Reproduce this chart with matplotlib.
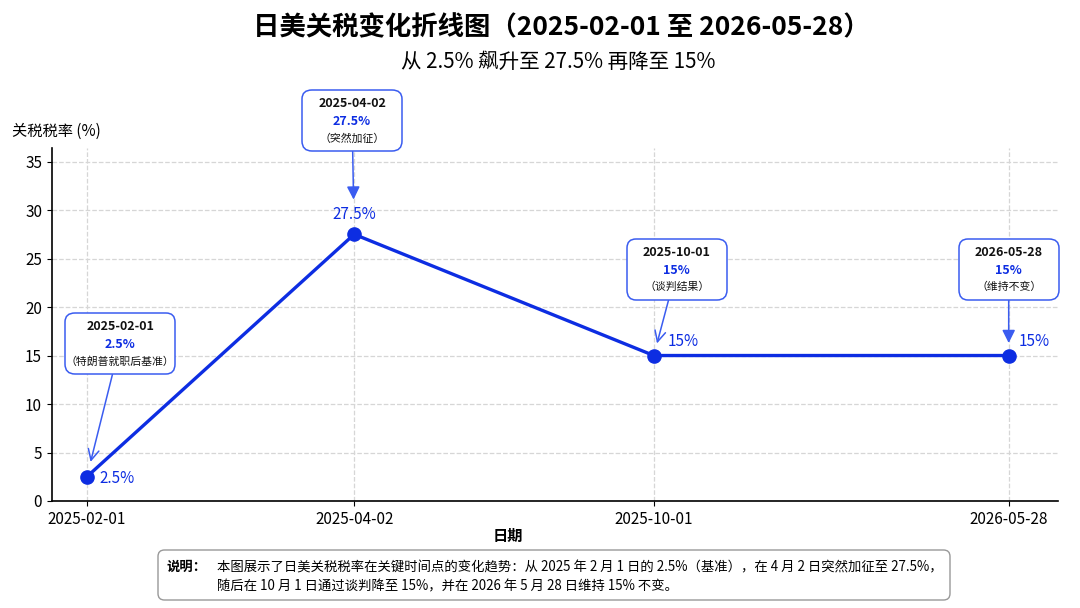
import numpy as np
import matplotlib
matplotlib.use('Agg')
import matplotlib.pyplot as plt
from matplotlib.offsetbox import TextArea, VPacker, AnnotationBbox, DrawingArea
from matplotlib.patches import FancyBboxPatch

plt.rcParams['font.family'] = ['Noto Sans CJK SC', 'DejaVu Sans']

# datos
fechas = ['2025-02-01', '2025-04-02', '2025-10-01', '2026-05-28']
x_pos = [0, 0.87, 1.845, 3.0]
tasa = [2.5, 27.5, 15, 15]
etiquetas = ['2.5%', '27.5%', '15%', '15%']
notas = ['（特朗普就职后基准）', '（突然加征）', '（谈判结果）', '（维持不变）']

azul = '#0d2de2'
azul_borde = '#3a5cf0'

fig = plt.figure(figsize=(10.8, 6.08), dpi=100)
ax = fig.add_axes([0.048, 0.176, 0.9315, 0.5806])

ax.plot(x_pos, tasa, color=azul, lw=2.4, marker='o', ms=9.5, zorder=5)

ax.set_xlim(-0.114, 3.16)
ax.set_ylim(0, 36.4)
ax.set_yticks(np.arange(0, 36, 5))
ax.set_xticks(x_pos)
ax.set_xticklabels(fechas)
ax.tick_params(labelsize=11)
ax.grid(True, ls='--', color='#d6d6d6', lw=0.9)
ax.set_axisbelow(True)
for s in ['top', 'right']:
    ax.spines[s].set_visible(False)
ax.spines['left'].set_linewidth(1.2)
ax.spines['bottom'].set_linewidth(1.2)

ax.set_xlabel('日期', fontsize=11, fontweight='bold')
ax.xaxis.set_label_coords(0.453, -0.075)
fig.text(12/1080, 1-131/608, '关税税率 (%)', fontsize=11, va='center', ha='left')

fig.text(0.52, 1-28/608, '日美关税变化折线图（2025-02-01 至 2026-05-28）', fontsize=19,
         fontweight='bold', ha='center', va='center')
fig.text(0.517, 1-62/608, '从 2.5% 飙升至 27.5% 再降至 15%', fontsize=14.8,
         ha='center', va='center')

# etiquetas de valor junto a los puntos
lab_off = [(9, -1), (0, 14), (10, 10), (7, 10)]
lab_ha = ['left', 'center', 'left', 'left']
for i in range(4):
    ax.annotate(etiquetas[i], (x_pos[i], tasa[i]), xytext=lab_off[i],
                textcoords='offset points', ha=lab_ha[i], va='center',
                color=azul, fontsize=11, zorder=6)

# cajas con flechas
caja_off = [(24, 96), (-1.5, 82), (16.5, 62), (0, 62)]
flecha = ['->', '-|>', '->', '-|>']
shrink = [11, 25, 9, 9]
for i in range(4):
    t1 = TextArea(fechas[i], textprops=dict(fontsize=9, fontweight='bold', color='#111111'))
    t2 = TextArea(etiquetas[i], textprops=dict(fontsize=9, fontweight='bold', color=azul))
    t3 = TextArea(notas[i], textprops=dict(fontsize=7.8, color='#111111'))
    # huecos: el de arriba fija el ancho minimo de la caja
    hueco1 = DrawingArea(71, 1.5)
    hueco2 = DrawingArea(1, 1.5)
    pack = VPacker(children=[hueco1, t1, t2, t3, hueco2], align='center', pad=0, sep=3.5)
    ab = AnnotationBbox(pack, (x_pos[i], tasa[i]), xybox=caja_off[i],
                        xycoords='data', boxcoords='offset points',
                        bboxprops=dict(boxstyle='round,pad=0.05,rounding_size=0.7',
                                       fc='white', ec=azul_borde, lw=1.1),
                        arrowprops=dict(arrowstyle=flecha[i], color=azul_borde,
                                        lw=1.1, shrinkA=0, shrinkB=shrink[i],
                                        mutation_scale=14),
                        zorder=7)
    ax.add_artist(ab)

# caja de explicacion
caja = FancyBboxPatch((158/1080, 1-600/608), (950-158)/1080, 50/608,
                      boxstyle='round,pad=0,rounding_size=0.006',
                      transform=fig.transFigure, fc='white', ec='#999999', lw=1.0,
                      mutation_aspect=1080/608)
fig.patches.append(caja)
fig.text(167/1080, 1-567/608, '说明：', fontsize=9.6, fontweight='bold', va='center')
fig.text(217/1080, 1-567/608,
         '本图展示了日美关税税率在关键时间点的变化趋势：从 2025 年 2 月 1 日的 2.5%（基准），在 4 月 2 日突然加征至 27.5%，',
         fontsize=9.6, va='center')
fig.text(217/1080, 1-586/608,
         '随后在 10 月 1 日通过谈判降至 15%，并在 2026 年 5 月 28 日维持 15% 不变。',
         fontsize=9.6, va='center')

fig.savefig('out.png', dpi=100)
